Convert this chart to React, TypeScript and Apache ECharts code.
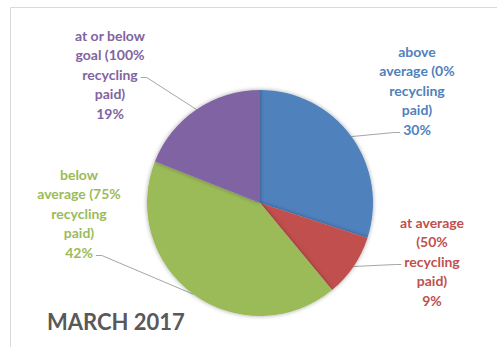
import React, { useEffect, useRef } from "react";
import * as echarts from "echarts";

const categories = [
  "above\naverage (0%\nrecycling\npaid)",
  "at average\n(50%\nrecycling\npaid)",
  "below\naverage (75%\nrecycling\npaid)",
  "at or below\ngoal (100%\nrecycling\npaid)",
];
const values = [30, 9, 42, 19];
const colors = ["#4F81BD", "#C0504D", "#9BBB59", "#8064A2"];
const titleText = "MARCH 2017";

const FONT_FAMILY = "Lato, 'Open Sans', sans-serif";
const FONT_SIZE = 14;
const LINE_H = 19.5;

// label layout (positions only): centre x, centre y, line index the leader attaches to, side
const labelPos = [
  { x: 417, y: 90, line: 4, side: "left" },
  { x: 432, y: 261, line: 2, side: "left" },
  { x: 79, y: 213, line: 4, side: "right" },
  { x: 110, y: 74, line: 2, side: "right" },
];

export default function App() {
  const ref = useRef<HTMLDivElement>(null);
  useEffect(() => {
    const chart = echarts.init(ref.current!, null, { renderer: "svg" });
    const cvs = document.createElement("canvas");
    const ctx = cvs.getContext("2d")!;
    ctx.font = `bold ${FONT_SIZE}px ${FONT_FAMILY}`;
    const total = values.reduce((a, b) => a + b, 0);

    chart.setOption({
      animation: false,
      backgroundColor: "#ffffff",
      graphic: [
        {
          type: "line",
          shape: { x1: 10.5, y1: 7.5, x2: 497, y2: 7.5 },
          style: { stroke: "#D9D9D9", lineWidth: 1 },
        },
        {
          type: "line",
          shape: { x1: 10.5, y1: 7.5, x2: 10.5, y2: 347 },
          style: { stroke: "#D9D9D9", lineWidth: 1 },
        },
        {
          type: "text",
          left: 47,
          top: 310,
          style: {
            text: titleText,
            fill: "#595959",
            font: `bold 22px ${FONT_FAMILY}`,
          },
        },
      ],
      series: [
        {
          type: "pie",
          center: [260, 203],
          radius: [0, 113],
          startAngle: 90,
          clockwise: true,
          data: categories.map((c, i) => ({
            name: c,
            value: values[i],
            itemStyle: { color: colors[i] },
            label: { color: colors[i] },
          })),
          itemStyle: {
            shadowBlur: 4,
            shadowColor: "rgba(0,0,0,0.35)",
          },
          label: {
            show: true,
            formatter: "{b}\n{d}%",
            fontFamily: FONT_FAMILY,
            fontWeight: "bold",
            fontSize: FONT_SIZE,
            lineHeight: LINE_H,
            align: "center",
          },
          labelLine: {
            show: true,
            length: 10,
            length2: 10,
            lineStyle: { color: "#A6A6A6", width: 1 },
          },
          labelLayout: (params: any) => {
            const i = params.dataIndex;
            const p = labelPos[i];
            const lines = (
              categories[i] + "\n" + Math.round((values[i] / total) * 100) + "%"
            ).split("\n");
            const w = ctx.measureText(lines[p.line]).width;
            const ly = p.y + (p.line - (lines.length - 1) / 2) * LINE_H + 3.5;
            const edge = params.labelLinePoints
              ? params.labelLinePoints[0]
              : [p.x, p.y];
            let end: number[];
            let bend: number[];
            if (p.side === "left") {
              end = [p.x - w / 2 - 3, ly];
              bend = [end[0] - 6, ly];
            } else {
              end = [p.x + w / 2 + 3, ly];
              bend = [end[0] + 6, ly];
            }
            return {
              x: p.x,
              y: p.y,
              align: "center",
              verticalAlign: "middle",
              labelLinePoints: [edge, bend, end],
            };
          },
        },
      ],
    });
    return () => chart.dispose();
  }, []);
  return (
    <div
      ref={ref}
      style={{ position: "absolute", left: 0, top: 0, width: 497, height: 347 }}
    />
  );
}
